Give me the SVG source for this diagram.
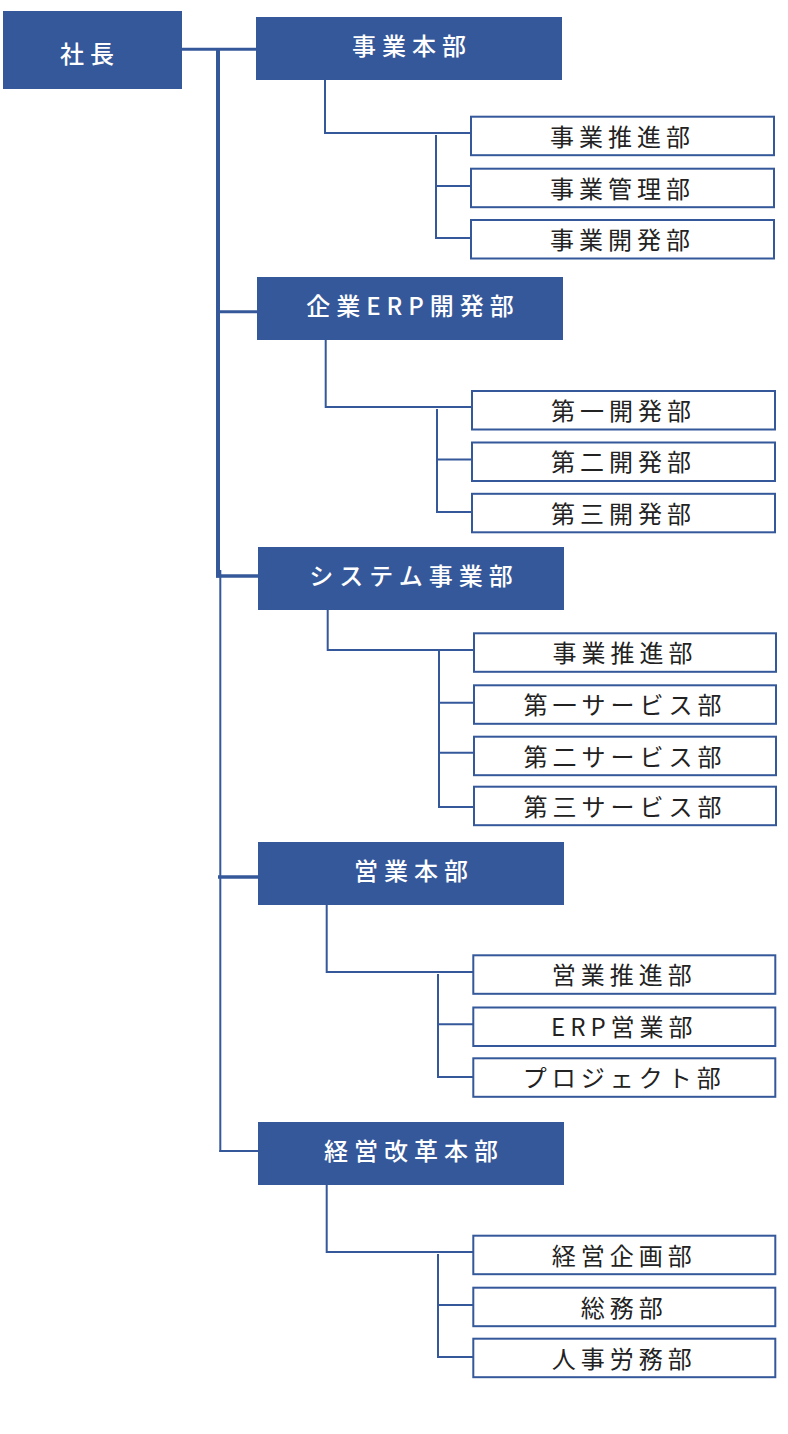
<svg xmlns="http://www.w3.org/2000/svg" width="788" height="1434" viewBox="0 0 788 1434">
<style>
.main{fill:#34589a}
.sub{fill:#ffffff;stroke:#34589a;stroke-width:2}
.mt{font-family:"Noto Sans CJK JP","Noto Sans",sans-serif;font-size:24px;font-weight:500;fill:#ffffff;letter-spacing:6px;text-anchor:middle}
.st{font-family:"Noto Sans CJK JP","Noto Sans",sans-serif;font-size:24px;font-weight:400;fill:#222222;letter-spacing:5px;text-anchor:middle}
.ln{fill:none;stroke:#34589a;stroke-width:2}
</style>
<rect width="788" height="1434" fill="#ffffff"/>
<g id="connectors">
<line x1="182" y1="49.2" x2="257" y2="49.2" stroke="#34589a" stroke-width="3"/>
<line x1="218" y1="48" x2="218" y2="577.5" stroke="#34589a" stroke-width="4"/>
<line x1="218" y1="311.8" x2="258" y2="311.8" stroke="#34589a" stroke-width="3"/>
<line x1="216" y1="576" x2="259" y2="576" stroke="#34589a" stroke-width="3.5"/>
<line x1="220.3" y1="570" x2="220.3" y2="1152" stroke="#34589a" stroke-width="2"/>
<line x1="218" y1="877" x2="259" y2="877" stroke="#34589a" stroke-width="3.5"/>
<line x1="219.3" y1="1151" x2="259" y2="1151" stroke="#34589a" stroke-width="2"/>
<path class="ln" d="M325,80 V133 H471 M436,135 V238 H471 M436,186 H471"/>
<path class="ln" d="M325.7,340 V407 H472 M437,409 V512 H472 M437,459.5 H472"/>
<path class="ln" d="M327.7,610 V650 H474 M439,650 V807 H474 M439,702.7 H474 M439,752.7 H474"/>
<path class="ln" d="M326.7,905 V972 H473 M438,974 V1077 H473 M438,1024.3 H473"/>
<path class="ln" d="M326.7,1185 V1252 H473 M438,1254 V1357 H473 M438,1305 H473"/>
</g>
<g id="president">
<rect class="main" x="3" y="11" width="179" height="78"/>
<text class="mt" x="90" y="63">社長</text>
</g>
<g id="jigyo-honbu">
<rect class="main" x="256" y="17" width="306" height="63"/>
<text class="mt" x="412" y="55">事業本部</text>
</g>
<g id="jigyo-suishin-1">
<rect class="sub" x="471" y="116.7" width="303" height="38.5"/>
<text class="st" x="622.5" y="145.5">事業推進部</text>
</g>
<g id="jigyo-kanri">
<rect class="sub" x="471" y="168.7" width="303" height="38.5"/>
<text class="st" x="622.5" y="197.5">事業管理部</text>
</g>
<g id="jigyo-kaihatsu">
<rect class="sub" x="471" y="220" width="303" height="38.5"/>
<text class="st" x="622.5" y="248.8">事業開発部</text>
</g>
<g id="erp-kaihatsu">
<rect class="main" x="257" y="277" width="306" height="63"/>
<text class="mt" x="413" y="315">企業ERP開発部</text>
</g>
<g id="dai1-kaihatsu">
<rect class="sub" x="472" y="391" width="303" height="38.5"/>
<text class="st" x="623.5" y="419.8">第一開発部</text>
</g>
<g id="dai2-kaihatsu">
<rect class="sub" x="472" y="442.5" width="303" height="38.5"/>
<text class="st" x="623.5" y="471.3">第二開発部</text>
</g>
<g id="dai3-kaihatsu">
<rect class="sub" x="472" y="493.8" width="303" height="38.5"/>
<text class="st" x="623.5" y="522.6">第三開発部</text>
</g>
<g id="system-jigyo">
<rect class="main" x="258" y="547" width="306" height="63"/>
<text class="mt" x="414" y="585">システム事業部</text>
</g>
<g id="jigyo-suishin-2">
<rect class="sub" x="474" y="633.3" width="302" height="38.5"/>
<text class="st" x="625" y="662.1">事業推進部</text>
</g>
<g id="dai1-service">
<rect class="sub" x="474" y="685.3" width="302" height="38.5"/>
<text class="st" x="625" y="714.1">第一サービス部</text>
</g>
<g id="dai2-service">
<rect class="sub" x="474" y="736.7" width="302" height="38.5"/>
<text class="st" x="625" y="765.5">第二サービス部</text>
</g>
<g id="dai3-service">
<rect class="sub" x="474" y="786.7" width="302" height="38.5"/>
<text class="st" x="625" y="815.5">第三サービス部</text>
</g>
<g id="eigyo-honbu">
<rect class="main" x="258" y="842" width="306" height="63"/>
<text class="mt" x="414" y="880">営業本部</text>
</g>
<g id="eigyo-suishin">
<rect class="sub" x="473.3" y="955.3" width="302" height="38.5"/>
<text class="st" x="624.3" y="984.1">営業推進部</text>
</g>
<g id="erp-eigyo">
<rect class="sub" x="473.3" y="1007.5" width="302" height="38.5"/>
<text class="st" x="624.3" y="1036.3">ERP営業部</text>
</g>
<g id="project">
<rect class="sub" x="473.3" y="1058.3" width="302" height="38.5"/>
<text class="st" x="624.3" y="1087.1">プロジェクト部</text>
</g>
<g id="keiei-kaikaku">
<rect class="main" x="258" y="1122" width="306" height="63"/>
<text class="mt" x="414" y="1160">経営改革本部</text>
</g>
<g id="keiei-kikaku">
<rect class="sub" x="473.3" y="1235.7" width="302" height="38.5"/>
<text class="st" x="624.3" y="1264.5">経営企画部</text>
</g>
<g id="somu">
<rect class="sub" x="473.3" y="1287.7" width="302" height="38.5"/>
<text class="st" x="624.3" y="1316.5">総務部</text>
</g>
<g id="jinji-romu">
<rect class="sub" x="473.3" y="1338.7" width="302" height="38.5"/>
<text class="st" x="624.3" y="1367.5">人事労務部</text>
</g>
</svg>
